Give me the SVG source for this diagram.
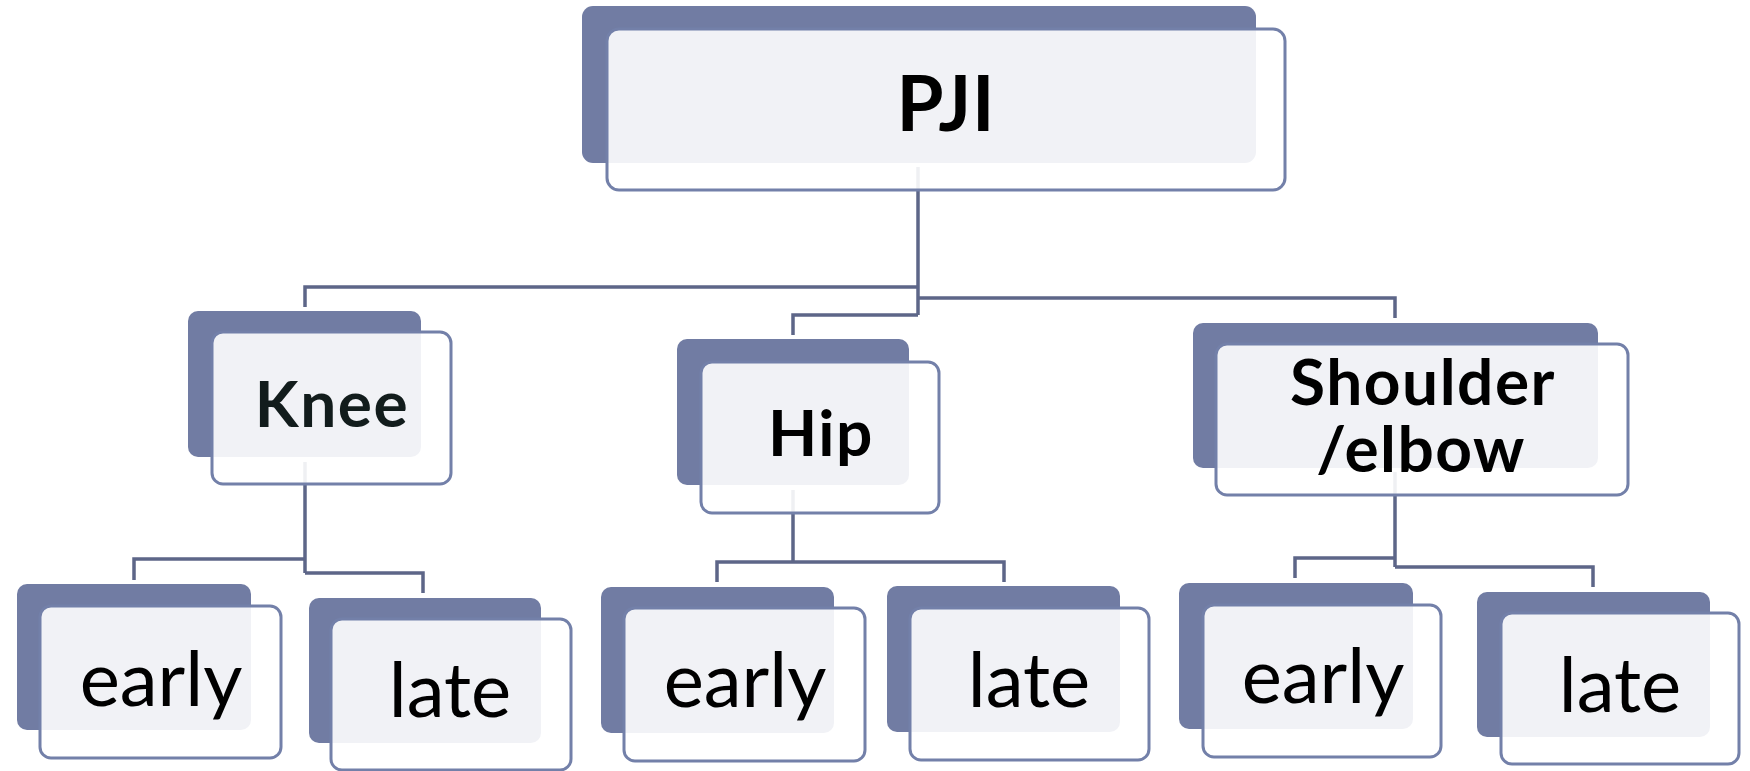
<svg xmlns="http://www.w3.org/2000/svg" width="1750" height="771" viewBox="0 0 1750 771">
<style>
.back{fill:#717ca3}
.front{fill:#ffffff;fill-opacity:0.9;stroke:#7380a9;stroke-width:3}
.conn{fill:none;stroke:#5d6688;stroke-width:3.5}
.lbl{font-family:Lato,"Liberation Sans",sans-serif;font-weight:bold;fill:#000;text-anchor:middle;font-size:64px;letter-spacing:1.5px}
.big{font-size:76px;letter-spacing:1px}
.sub{font-family:Lato,"Liberation Sans",sans-serif;font-size:76px;fill:#000;text-anchor:middle}
</style>
<rect width="1750" height="771" fill="#ffffff"/>
<g id="connectors" class="conn">
<path d="M918 167 V315"/>
<path d="M918 287 H305 V307"/>
<path d="M918 298 H1395 V318"/>
<path d="M918 315 H793 V335"/>
<path d="M305 462 V573"/>
<path d="M305 559 H134 V580"/>
<path d="M305 573 H423 V593"/>
<path d="M793 490 V562"/>
<path d="M717 582 V562 H1004 V582"/>
<path d="M1395 472 V567"/>
<path d="M1395 558 H1295 V578"/>
<path d="M1395 567 H1593 V587"/>
</g>
<g id="pji">
<rect class="back" x="582" y="6" width="674" height="157" rx="11"/>
<rect class="front" x="607" y="29" width="678" height="161" rx="12"/>
<text class="lbl big" x="946" y="131">PJI</text>
</g>
<g id="knee">
<rect class="back" x="188" y="311" width="233" height="146" rx="10"/>
<rect class="front" x="212" y="332" width="239" height="152" rx="11"/>
<text class="lbl" x="332" y="427" style="fill:#121c1c">Knee</text>
</g>
<g id="hip">
<rect class="back" x="677" y="339" width="232" height="146" rx="10"/>
<rect class="front" x="701" y="362" width="238" height="151" rx="11"/>
<text class="lbl" x="821" y="456">Hip</text>
</g>
<g id="shoulder">
<rect class="back" x="1193" y="323" width="405" height="145" rx="10"/>
<rect class="front" x="1216" y="344" width="412" height="151" rx="11"/>
<text class="lbl" x="1423" y="405">Shoulder</text>
<text class="lbl" x="1421" y="472">/elbow</text>
</g>
<g id="knee-early">
<rect class="back" x="17" y="584" width="234" height="146" rx="10"/>
<rect class="front" x="40" y="606" width="241" height="152" rx="11"/>
<text class="sub" x="161" y="706">early</text>
</g>
<g id="knee-late">
<rect class="back" x="309" y="598" width="232" height="145" rx="10"/>
<rect class="front" x="331" y="619" width="240" height="151" rx="11"/>
<text class="sub" x="450" y="717">late</text>
</g>
<g id="hip-early">
<rect class="back" x="601" y="587" width="233" height="146" rx="10"/>
<rect class="front" x="624" y="608" width="241" height="153" rx="11"/>
<text class="sub" x="745" y="707">early</text>
</g>
<g id="hip-late">
<rect class="back" x="887" y="586" width="233" height="146" rx="10"/>
<rect class="front" x="910" y="608" width="239" height="152" rx="11"/>
<text class="sub" x="1029" y="707">late</text>
</g>
<g id="shoulder-early">
<rect class="back" x="1179" y="583" width="234" height="146" rx="10"/>
<rect class="front" x="1203" y="605" width="238" height="152" rx="11"/>
<text class="sub" x="1323" y="703">early</text>
</g>
<g id="shoulder-late">
<rect class="back" x="1477" y="592" width="233" height="145" rx="10"/>
<rect class="front" x="1501" y="613" width="238" height="151" rx="11"/>
<text class="sub" x="1620" y="712">late</text>
</g>
</svg>
